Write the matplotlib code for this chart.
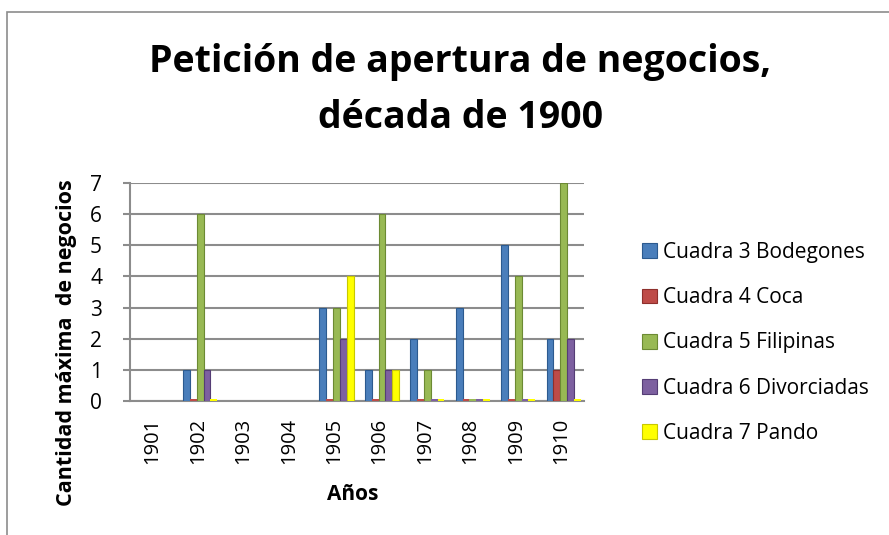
import matplotlib
matplotlib.use("Agg")
import matplotlib.pyplot as plt
import numpy as np
from matplotlib.patches import Rectangle

plt.rcParams['font.family'] = ['Open Sans', 'DejaVu Sans']

years = ["1901", "1902", "1903", "1904", "1905", "1906", "1907", "1908", "1909", "1910"]
series_names = ["Cuadra 3 Bodegones", "Cuadra 4 Coca", "Cuadra 5 Filipinas",
                "Cuadra 6 Divorciadas", "Cuadra 7 Pando"]
nan = np.nan
bodegones = [nan, 1, nan, nan, 3, 1, 2, 3, 5, 2]
coca = [nan, 0, nan, nan, 0, 0, 0, 0, 0, 1]
filipinas = [nan, 6, nan, nan, 3, 6, 1, 0, 4, 7]
divorciadas = [nan, 1, nan, nan, 2, 1, 0, 0, 0, 2]
pando = [nan, 0, nan, nan, 4, 1, 0, 0, 0, 0]
series = [bodegones, coca, filipinas, divorciadas, pando]
colors = ["#4A7EBB", "#BE4B48", "#98B954", "#7D60A0", "#FFFF00"]
edges = ["#2C5A8F", "#8E2F2C", "#6C8A33", "#553D75", "#C8C800"]

fig = plt.figure(figsize=(8.89, 5.35), dpi=100)
fig.patches.append(Rectangle((0.0079, -0.01), 1.0, 0.9876, transform=fig.transFigure,
                             fill=False, edgecolor="#8C8C8C", linewidth=1.2))

ax = fig.add_axes([0.146, 0.2505, 0.511, 0.4075])
x = np.arange(len(years))
w = 0.15
for i, (vals, c, e) in enumerate(zip(series, colors, edges)):
    v = np.array(vals, dtype=float)
    pos = x + (i - 2) * w + 0.05
    ax.bar(pos, v, width=w, color=c, edgecolor=e, linewidth=0.8, label=series_names[i], zorder=3)
    # thin flat slab for zero values (as in the 3D original)
    zm = (v == 0)
    ax.bar(pos[zm], np.full(zm.sum(), 0.06), width=w, color=c, edgecolor="none", zorder=3)

ax.set_xlim(-0.5, len(years) - 0.5)
ax.set_ylim(0, 7)
ax.set_yticks(range(0, 8))
ax.set_xticks(x)
ax.set_xticklabels(years, rotation=90, fontsize=14.5)
ax.tick_params(axis='y', labelsize=15, length=5, width=1.5, color="#8C8C8C", pad=15)
ax.tick_params(axis='x', length=0, pad=12)
ax.yaxis.grid(True, color="#8C8C8C", linewidth=1.5, zorder=0)
for s in ["top", "right"]:
    ax.spines[s].set_visible(False)
ax.spines["left"].set_color("#8C8C8C")
ax.spines["left"].set_linewidth(1.5)
ax.spines["bottom"].set_color("#8C8C8C")
ax.spines["bottom"].set_linewidth(1.5)

fig.text(67 / 889, 1 - 343 / 535, "Cantidad máxima  de negocios", rotation=90,
         ha="center", va="center", fontsize=15.5, fontweight="bold")
fig.text(353 / 889, 1 - 495 / 535, "Años", ha="center", va="center",
         fontsize=15, fontweight="bold")

fig.text(0.518, 1 - 62 / 535, "Petición de apertura de negocios,", ha="center", va="center",
         fontsize=27, fontweight="bold")
fig.text(0.518, 1 - 118 / 535, "década de 1900", ha="center", va="center",
         fontsize=27, fontweight="bold")

handles, labels = ax.get_legend_handles_labels()
leg = fig.legend(handles[:5], labels[:5], loc="center left", bbox_to_anchor=(0.701, 0.359),
                 frameon=False, fontsize=15, handlelength=0.72, handleheight=0.72,
                 labelspacing=1.16, handletextpad=0.3)

fig.savefig("out.png", dpi=100)
